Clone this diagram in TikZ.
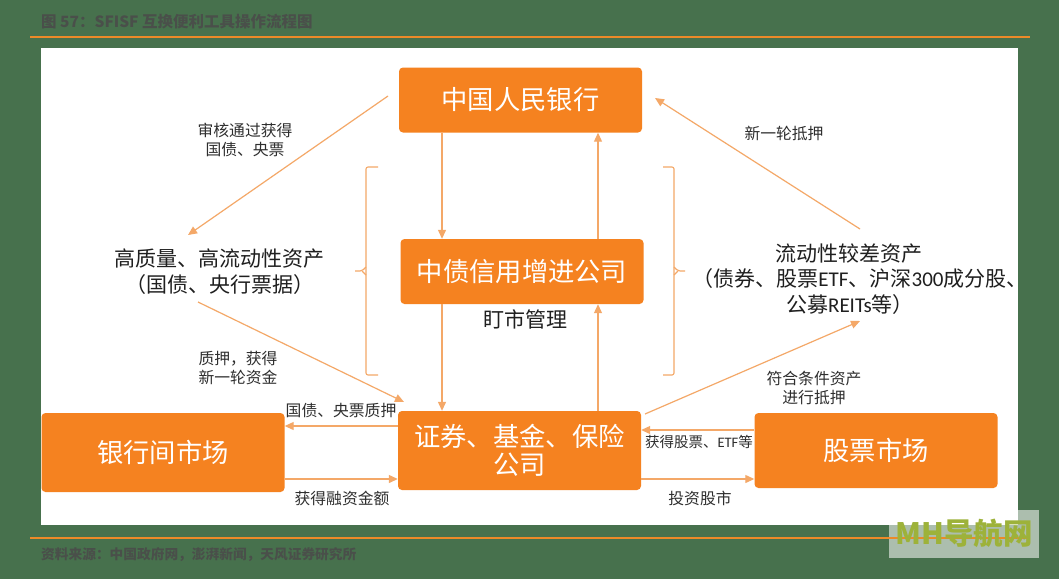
\documentclass[tikz,border=0pt]{standalone}
\usepackage{fontspec}
\setmainfont{Noto Sans CJK SC}
\newfontfamily\latinpart{Carlito}
\usetikzlibrary{arrows.meta}
\definecolor{pagegreen}{HTML}{47714D}
\definecolor{boxorange}{HTML}{F58220}
\definecolor{linkorange}{HTML}{F4A868}
\definecolor{ruleorange}{HTML}{EC8A28}
\definecolor{headgray}{HTML}{4A4F4A}
\definecolor{markgreen}{HTML}{9DB23A}
\tikzset{orgbox/.style={fill=boxorange,rounded corners=4pt,text=white,align=center,
                        inner sep=0pt,font=\fontsize{26.3}{27.5}\selectfont}}
\tikzset{mainlabel/.style={align=center,text=black!88,inner sep=0pt,
                           font=\fontsize{21}{25.8}\selectfont}}
\tikzset{edgelabel/.style={align=center,text=black!82,inner sep=0pt,
                           font=\fontsize{15.8}{19}\selectfont}}
\tikzset{flow/.style={draw=linkorange,line width=1.2pt,-{Triangle[length=9pt,width=8pt]}}}
\tikzset{bracket/.style={draw=linkorange,line width=1.1pt,rounded corners=2pt}}
\begin{document}
\begin{tikzpicture}[x=1pt,y=-1pt]
    \useasboundingbox[fill=pagegreen] (0,0) rectangle (1059,579);
    % Panel and titles
    \fill[white] (41,48) rectangle (1018,525);
    \node[anchor=west,inner sep=0pt,text=headgray,font=\bfseries\fontsize{15.5}{18}\selectfont] (title) at (41,22) {图 57：SFISF 互换便利工具操作流程图};
    \node[anchor=west,inner sep=0pt,text=headgray,font=\bfseries\fontsize{13.7}{16}\selectfont] (source) at (41,555) {资料来源：中国政府网，澎湃新闻，天风证券研究所};
    % Draw boxes
    \node[orgbox,minimum width=243pt,minimum height=65pt] (pboc) at (520.5,100) {\raisebox{1pt}{中国人民银行}};
    \node[orgbox,minimum width=243pt,minimum height=65pt] (cdc) at (522,271.5) {\raisebox{1pt}{中债信用增进公司}};
    \node[orgbox,minimum width=243pt,minimum height=79pt] (funds) at (519.5,450.5) {\raisebox{1pt}{证券、基金、保险}\\\raisebox{1pt}{公司}};
    \node[orgbox,minimum width=243pt,minimum height=79pt] (interbank) at (163,452.5) {\raisebox{2pt}{银行间市场}};
    \node[orgbox,minimum width=243pt,minimum height=75pt] (stock) at (876,450.5) {\raisebox{2pt}{股票市场}};
    % Main labels
    \node[mainlabel] (goodassets) at (219.5,272) {高质量、高流动性资产\\（国债、央行票据）};
    \node[mainlabel] (poorassets) at (860,279) {流动性较差资产\hspace*{22pt}\\（债券、股票{\latinpart ETF}、沪深{\latinpart 300}成分股、\\公募{\latinpart REITs}等）\hspace*{20pt}};
    \node[mainlabel] (watch) at (525,319.5) {盯市管理};
    % Edge labels
    \node[edgelabel] (lab1) at (245,140) {审核通过获得\\国债、央票};
    \node[edgelabel] (lab2) at (784,133) {新一轮抵押};
    \node[edgelabel] (lab3) at (238,368) {质押，获得\\新一轮资金};
    \node[edgelabel] (lab4) at (814,388) {符合条件资产\\进行抵押};
    \node[edgelabel] (lab5) at (341,410) {国债、央票质押};
    \node[edgelabel] (lab6) at (342,498) {获得融资金额};
    \node[edgelabel,font=\fontsize{14.5}{16}\selectfont] (lab7) at (699,442) {获得股票、{\latinpart ETF}等};
    \node[edgelabel] (lab8) at (700,498) {投资股市};
    % Free ends of the slanted arrows
    \coordinate (a1s) at (388,96);
    \coordinate (a1e) at (188,235);
    \coordinate (a2s) at (860,229);
    \coordinate (a2e) at (655,98);
    \coordinate (a3s) at (198,302);
    \coordinate (a3e) at (404,402);
    \coordinate (a4s) at (645,414);
    \coordinate (a4e) at (860,321);
    \draw[flow] (a1s) -- (a1e);
    \draw[flow] (a2s) -- (a2e);
    \draw[flow] (a3s) -- (a3e);
    \draw[flow] (a4s) -- (a4e);
    % Vertical arrows
    \draw[flow] (pboc.south -| 442,0) -- (cdc.north -| 442,0);
    \draw[flow] (cdc.north -| 598,0) -- (pboc.south -| 598,0);
    \draw[flow] (cdc.south -| 442,0) -- (funds.north -| 442,0);
    \draw[flow] (funds.north -| 598,0) -- (cdc.south -| 598,0);
    % Horizontal arrows
    \draw[flow] (funds.west |- 0,426) -- (interbank.east |- 0,426);
    \draw[flow] (interbank.east |- 0,479) -- (funds.west |- 0,479);
    \draw[flow] (stock.west |- 0,430) -- (funds.east |- 0,430);
    \draw[flow] (funds.east |- 0,479) -- (stock.west |- 0,479);
    % Brackets
    \draw[bracket] (378,167) -- (366,167) -- (366,375) -- (378,375);
    \draw[bracket] (355,271) -- (362,271) -- (366,267);
    \draw[bracket] (362,271) -- (366,275);
    \draw[bracket] (663,167) -- (674,167) -- (674,375) -- (663,375);
    \draw[bracket] (685,271) -- (678,271) -- (674,267);
    \draw[bracket] (678,271) -- (674,275);
    % Watermark, the rules stay on top of its plate
    \fill[white,opacity=0.55] (889,510) rectangle (1039,558);
    \coordinate (ruletopl) at (30,37);
    \coordinate (ruletopr) at (1030,37);
    \coordinate (rulebotl) at (30,538);
    \coordinate (rulebotr) at (1030,538);
    \draw[ruleorange,line width=2pt] (ruletopl) -- (ruletopr);
    \draw[ruleorange,line width=2pt] (rulebotl) -- (rulebotr);
    \node[inner sep=0pt,text=markgreen,font=\bfseries\fontsize{29.5}{32}\selectfont] (mark) at (964,533) {MH导航网};
\end{tikzpicture}
\end{document}
